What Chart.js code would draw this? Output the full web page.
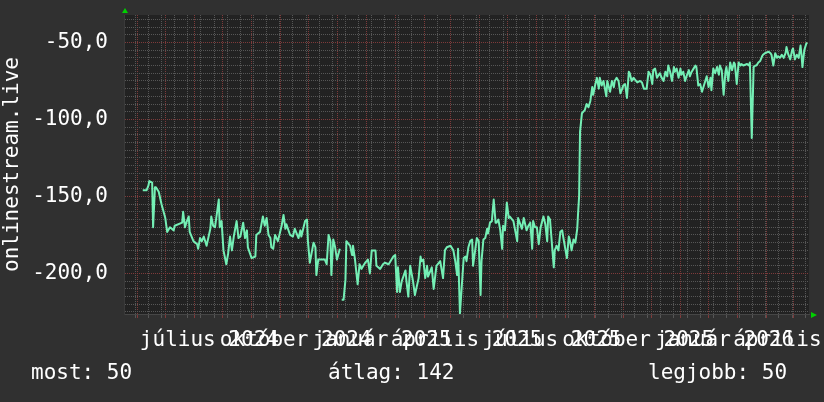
<!DOCTYPE html>
<html>
<head>
<meta charset="utf-8">
<title>onlinestream.live</title>
<script src="https://cdn.jsdelivr.net/npm/chart.js@4.4.1/dist/chart.umd.min.js"></script>
<style>
  html, body { margin: 0; padding: 0; background: #303030; }
  #wrap { position: relative; width: 824px; height: 402px; overflow: hidden; }
  canvas { display: block; }
  .foot {
    position: absolute;
    top: 362px;
    font: 21px/21px 'DejaVu Sans Mono', monospace;
    color: #fff;
    white-space: pre;
  }
</style>
</head>
<body>
<div id="wrap">
  <canvas id="chart" width="824" height="402"></canvas>
  <span class="foot" id="footNow" style="left:31px"></span>
  <span class="foot" id="footAvg" style="left:328px"></span>
  <span class="foot" id="footBest" style="left:648px"></span>
</div>
<script>
// days counted from 2024-04-01
const AXIS_DAYS = 730;
const Y_MIN = -226.3;
const Y_MAX = -32.2;

const days = [
  20, 24, 26, 27, 30, 31, 33, 34, 37, 40,
  44, 46, 49, 53, 54, 62, 63, 65, 67, 69,
  70, 74, 78, 79, 81, 83, 85, 88, 92, 93,
  95, 97, 101, 102, 104, 106, 109, 111, 113, 115,
  117, 120, 122, 124, 127, 129, 131, 132, 136, 140,
  141, 145, 148, 150, 152, 154, 156, 157, 159, 161,
  164, 168, 170, 172, 173, 177, 180, 182, 186, 188,
  189, 193, 195, 196, 198, 202, 204, 205, 207, 211,
  214, 216, 218, 220, 221, 223, 225, 227, 230, 231,
  232, 234, 236, 237, 241, 243, 244, 246, 249, 251,
  253, 257, 260, 262, 264, 268, 269, 273, 276, 278,
  282, 284, 287, 289, 291, 292, 294, 296, 300, 301,
  303, 305, 308, 310, 314, 316, 317, 319, 321, 323,
  324, 328, 330, 333, 337, 340, 342, 344, 348, 351,
  353, 355, 356, 358, 362, 364, 365, 367, 369, 371,
  372, 376, 378, 380, 381, 383, 385, 387, 388, 390,
  392, 394, 396, 397, 399, 401, 403, 404, 406, 408,
  410, 411, 415, 419, 420, 424, 426, 429, 431, 433,
  435, 436, 438, 440, 442, 444, 447, 449, 451, 452,
  454, 458, 459, 461, 463, 465, 467, 468, 472, 474,
  475, 477, 479, 481, 483, 484, 485, 486, 488, 491,
  493, 495, 497, 499, 500, 502, 504, 506, 507, 509,
  511, 514, 515, 518, 520, 522, 523, 525, 527, 529,
  531, 532, 534, 536, 538, 539, 541, 543, 547, 550,
  552, 554, 557, 559, 561, 563, 564, 566, 568, 570,
  571, 573, 575, 577, 579, 580, 582, 584, 586, 587,
  589, 591, 593, 594, 596, 598, 600, 602, 603, 605,
  607, 609, 610, 612, 614, 616, 618, 619, 621, 623,
  625, 626, 628, 630, 632, 634, 635, 637, 639, 641,
  642, 644, 646, 648, 650, 651, 653, 655, 657, 658,
  660, 664, 666, 667, 669, 671, 673, 674, 676, 678,
  680, 681, 683, 687, 689, 690, 692, 694, 696, 697,
  699, 701, 703, 705, 706, 708, 710, 712, 713, 715,
  717, 719, 721, 722, 723, 725, 727, 728,
];

const values = [
  -146, -146, -143, -140, -141, -170, -144, -144, -147, -155,
  -164, -173, -170, -172, -169, -167, -160, -170, -166, -163,
  -173, -179, -181, -184, -177, -179, -176, -182, -171, -163,
  -169, -170, -152, -170, -166, -185, -194, -187, -176, -185,
  -176, -166, -177, -176, -167, -177, -172, -183, -190, -189,
  -175, -173, -163, -169, -164, -175, -177, -183, -184, -175,
  -179, -169, -162, -171, -168, -175, -176, -171, -177, -172,
  -176, -166, -165, -179, -193, -180, -183, -201, -191, -191,
  -191, -194, -175, -179, -201, -178, -183, -191, -184, null,
  -217, -217, -204, -179, -182, -188, -182, -190, -207, -194,
  -197, -193, -191, -200, -185, -185, -195, -197, -194, -193,
  -194, -192, -189, -188, -212, -196, -212, -205, -198, -205,
  -215, -195, -205, -214, -203, -189, -192, -191, -203, -195,
  -202, -196, -210, -195, -192, -203, -185, -183, -182, -185,
  -192, -201, -184, -226, -190, -189, -192, -183, -179, -178,
  -195, -177, -179, -214, -192, -178, -177, -171, -174, -167,
  -166, -152, -167, -167, -165, -172, -184, -169, -172, -154,
  -164, -163, -166, -179, -164, -171, -164, -172, -169, -167,
  -184, -166, -170, -170, -181, -170, -163, -168, -179, -163,
  -165, -196, -185, -182, -185, -173, -172, -176, -190, -176,
  -178, -185, -178, -180, -171, -160, -150, -108, -96, -94,
  -90, -92, -88, -79, -84, -78, -73, -80, -73, -78,
  -75, -85, -75, -82, -75, -79, -75, -73, -75, -83,
  -80, -78, -77, -86, -69, -70, -75, -73, -76, -75,
  -76, -80, -80, -69, -71, -77, -68, -67, -73, -71,
  -70, -73, -75, -69, -72, -65, -69, -75, -66, -69,
  -67, -73, -67, -71, -69, -75, -71, -68, -72, -69,
  -67, -65, -66, -78, -77, -82, -78, -76, -72, -79,
  -73, -81, -67, -70, -66, -71, -65, -68, -84, -69,
  -66, -75, -63, -68, -63, -64, -77, -63, -65, -64,
  -65, -64, -65, -63, -112, -66, -65, -65, -63, -62,
  -59, -58, -57, -56, -57, -58, -65, -57, -60, -59,
  -60, -58, -60, -57, -53, -58, -61, -55, -54, -61,
  -58, -60, -52, -58, -66, -55, -51, -50,
];

// quarter starts (label ticks)
const quarterDays = [91, 183, 275, 365, 456, 548, 640, 730];
const quarterLabels = [
  'július 2024', 'október 2024', 'január 2025', 'április 2025',
  'július 2025', 'október 2025', 'január 2026', 'április 2026',
];

// red vertical grid: 15th of each month
const monthGridDays = [
  14, 44, 75, 105, 136, 167, 197, 228, 258, 289, 320, 348,
  379, 409, 440, 470, 501, 532, 562, 593, 623, 654, 685, 713,
];

const WEEK_GRID_START = 12;
const WEEK_GRID_STEP = 14;

const footerNow = 'most: 50';
const footerAvg = 'átlag: 142';
const footerBest = 'legjobb: 50';

const MINOR_COLOR = '#565656';
const MAJOR_COLOR = '#7e3a3a';
const LINE_COLOR = '#74efb5';

document.getElementById('footNow').textContent = footerNow;
document.getElementById('footAvg').textContent = footerAvg;
document.getElementById('footBest').textContent = footerBest;

Chart.defaults.font.family = "'DejaVu Sans Mono', monospace";
Chart.defaults.font.size = 21;
Chart.defaults.color = '#ffffff';

const points = days.map((d, i) => ({ x: d, y: values[i] }));

const plotBackground = {
  id: 'plotBackground',
  beforeDraw(chart) {
    const { ctx, chartArea: a } = chart;
    ctx.save();
    ctx.fillStyle = '#222222';
    ctx.fillRect(a.left, a.top, a.right - a.left, a.bottom - a.top);
    ctx.restore();
  },
};

const axisArrows = {
  id: 'axisArrows',
  afterDraw(chart) {
    const { ctx, chartArea: a } = chart;
    ctx.save();
    ctx.fillStyle = '#00d000';
    ctx.beginPath();
    ctx.moveTo(a.left - 2, a.top - 2);
    ctx.lineTo(a.left + 4, a.top - 2);
    ctx.lineTo(a.left + 1, a.top - 7);
    ctx.closePath();
    ctx.fill();
    ctx.beginPath();
    ctx.moveTo(a.right + 2, a.bottom - 2);
    ctx.lineTo(a.right + 2, a.bottom + 4);
    ctx.lineTo(a.right + 8, a.bottom + 1);
    ctx.closePath();
    ctx.fill();
    ctx.restore();
  },
};

const zeroHeight = (scale) => {
  scale.height = 0;
  scale.paddingLeft = 0;
  scale.paddingRight = 0;
};

new Chart(document.getElementById('chart'), {
  type: 'line',
  data: {
    datasets: [
      {
        data: points,
        xAxisID: 'x',
        yAxisID: 'y',
        borderColor: LINE_COLOR,
        borderWidth: 2,
        pointRadius: 0,
        tension: 0,
        spanGaps: false,
        borderJoinStyle: 'round',
      },
    ],
  },
  options: {
    responsive: false,
    animation: false,
    layout: { padding: { left: 0, top: 15, right: 15, bottom: 0 } },
    plugins: {
      legend: { display: false },
      tooltip: { enabled: false },
    },
    scales: {
      xMinor: {
        type: 'linear',
        position: 'bottom',
        weight: 0,
        min: 0,
        max: AXIS_DAYS,
        afterBuildTicks: (scale) => {
          const ticks = [];
          for (let d = WEEK_GRID_START; d < AXIS_DAYS; d += WEEK_GRID_STEP) ticks.push({ value: d });
          scale.ticks = ticks;
        },
        afterFit: zeroHeight,
        ticks: { display: false },
        grid: { color: MINOR_COLOR, tickColor: MINOR_COLOR, tickLength: 4, lineWidth: 1 },
        border: { display: false, dash: [1, 1] },
      },
      xMajor: {
        type: 'linear',
        position: 'bottom',
        weight: 0,
        min: 0,
        max: AXIS_DAYS,
        afterBuildTicks: (scale) => {
          scale.ticks = monthGridDays.map((d) => ({ value: d }));
        },
        afterFit: zeroHeight,
        ticks: { display: false },
        grid: { color: MAJOR_COLOR, tickColor: MAJOR_COLOR, tickLength: 4, lineWidth: 1 },
        border: { display: true, color: '#464646', dash: [1, 1] },
      },
      x: {
        type: 'linear',
        position: 'bottom',
        weight: 1,
        min: 0,
        max: AXIS_DAYS,
        afterBuildTicks: (scale) => {
          scale.ticks = quarterDays.map((d) => ({ value: d }));
        },
        afterFit: (scale) => {
          scale.height = 88;
          scale.paddingLeft = 0;
          scale.paddingRight = 0;
        },
        grid: { display: false },
        border: { display: false },
        ticks: {
          autoSkip: false,
          maxRotation: 0,
          minRotation: 0,
          padding: 6,
          color: '#ffffff',
          callback: (value, index) => quarterLabels[index],
        },
      },
      y: {
        type: 'linear',
        position: 'left',
        min: Y_MIN,
        max: Y_MAX,
        afterBuildTicks: (scale) => {
          const ticks = [];
          for (let v = -225; v <= -35; v += 5) ticks.push({ value: v });
          scale.ticks = ticks;
        },
        afterFit: (scale) => {
          scale.width = 124;
          scale.paddingTop = 0;
          scale.paddingBottom = 0;
        },
        grid: {
          drawTicks: false,
          color: (ctx) => (ctx.tick && ctx.tick.value % 50 === 0 ? MAJOR_COLOR : MINOR_COLOR),
        },
        border: { display: true, color: '#3a3a3a', dash: [1, 1] },
        ticks: {
          autoSkip: false,
          padding: 16,
          color: '#ffffff',
          callback: (value) => (value % 50 === 0 ? value.toFixed(1).replace('.', ',') : ''),
        },
        title: {
          display: true,
          text: 'onlinestream.live',
          color: '#ffffff',
          padding: 0,
        },
      },
    },
  },
  plugins: [plotBackground, axisArrows],
});
</script>
</body>
</html>
